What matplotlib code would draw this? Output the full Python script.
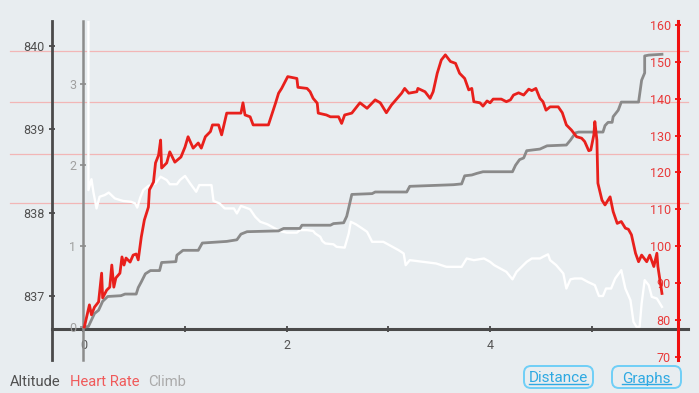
import matplotlib
matplotlib.use("Agg")
import matplotlib.pyplot as plt
from matplotlib.patches import FancyBboxPatch
from matplotlib.lines import Line2D
from matplotlib.transforms import IdentityTransform

plt.rcParams["font.family"] = ["Roboto", "DejaVu Sans"]

# distance axis ticks
dist_ticks = [0, 1, 2, 3, 4, 5]
dist_tick_labels = ["0", "", "2", "", "4", ""]

# altitude (white line, left dark axis)
alt_ticks = [837, 838, 839, 840]
alt_dist = [0.05, 0.05, 0.08, 0.10, 0.13, 0.16, 0.21, 0.25, 0.31, 0.39,
            0.47, 0.51, 0.53, 0.56, 0.59, 0.64, 0.71, 0.76, 0.82, 0.85,
            0.92, 0.95, 1.00, 1.05, 1.11, 1.14, 1.26, 1.28, 1.34, 1.39,
            1.48, 1.51, 1.55, 1.64, 1.69, 1.74, 1.81, 1.90, 1.93, 2.00,
            2.10, 2.13, 2.20, 2.26, 2.28, 2.33, 2.35, 2.38, 2.46, 2.49,
            2.57, 2.61, 2.63, 2.68, 2.73, 2.79, 2.84, 2.95, 3.01, 3.10,
            3.15, 3.17, 3.21, 3.34, 3.47, 3.57, 3.72, 3.77, 3.84, 3.94,
            4.00, 4.04, 4.10, 4.16, 4.22, 4.26, 4.36, 4.41, 4.49, 4.52,
            4.57, 4.59, 4.65, 4.72, 4.75, 4.79, 4.83, 4.90, 4.96, 5.03,
            5.07, 5.11, 5.14, 5.19, 5.23, 5.29, 5.33, 5.38, 5.41, 5.44,
            5.47, 5.49, 5.52, 5.56, 5.59, 5.64, 5.67, 5.69]
alt_m = [841.50, 838.27, 838.40, 838.24, 838.05, 838.19, 838.21, 838.24, 838.17, 838.14,
         838.13, 838.11, 838.06, 838.18, 838.27, 838.32, 838.35, 838.43, 838.39, 838.34,
         838.34, 838.39, 838.44, 838.35, 838.25, 838.33, 838.33, 838.14, 838.11, 838.05,
         838.05, 837.99, 838.08, 838.04, 837.95, 837.89, 837.86, 837.80, 837.78, 837.76,
         837.76, 837.79, 837.79, 837.78, 837.75, 837.71, 837.66, 837.63, 837.62, 837.59,
         837.58, 837.75, 837.89, 837.86, 837.82, 837.77, 837.65, 837.65, 837.61, 837.55,
         837.51, 837.37, 837.43, 837.41, 837.39, 837.35, 837.35, 837.45, 837.43, 837.45,
         837.41, 837.37, 837.33, 837.29, 837.20, 837.29, 837.41, 837.45, 837.45, 837.47,
         837.50, 837.43, 837.37, 837.27, 837.09, 837.20, 837.21, 837.21, 837.17, 837.13,
         837.00, 837.00, 837.09, 837.09, 837.21, 837.31, 837.09, 836.95, 836.69, 836.63,
         836.63, 836.91, 837.19, 837.13, 836.99, 836.97, 836.91, 836.87]
grid_alt = [839.94, 839.32, 838.70, 838.12]

# climb (grey step line)
climb_ticks = [0, 1, 2, 3]
climb_dist = [0.00, 0.05, 0.08, 0.11, 0.15, 0.19, 0.24, 0.37, 0.41, 0.52,
              0.54, 0.57, 0.61, 0.66, 0.75, 0.77, 0.91, 0.92, 0.98, 1.13,
              1.17, 1.41, 1.51, 1.55, 1.61, 1.92, 1.97, 2.13, 2.15, 2.43,
              2.46, 2.56, 2.59, 2.62, 2.64, 2.84, 2.87, 3.18, 3.21, 3.64,
              3.72, 3.75, 3.82, 3.87, 3.93, 4.22, 4.25, 4.29, 4.33, 4.36,
              4.49, 4.56, 4.75, 4.79, 4.84, 4.87, 5.11, 5.13, 5.16, 5.20,
              5.21, 5.26, 5.29, 5.46, 5.49, 5.52, 5.52, 5.56, 5.69]
climb_val = [0.00, 0.01, 0.09, 0.17, 0.21, 0.32, 0.38, 0.39, 0.41, 0.41,
             0.49, 0.56, 0.66, 0.70, 0.70, 0.80, 0.81, 0.89, 0.95, 0.95,
             1.04, 1.06, 1.08, 1.15, 1.18, 1.19, 1.22, 1.22, 1.26, 1.26,
             1.28, 1.29, 1.37, 1.53, 1.64, 1.65, 1.67, 1.67, 1.74, 1.76,
             1.77, 1.87, 1.88, 1.90, 1.92, 1.92, 2.00, 2.07, 2.09, 2.18,
             2.20, 2.24, 2.25, 2.31, 2.40, 2.41, 2.41, 2.49, 2.53, 2.53,
             2.60, 2.68, 2.78, 2.78, 3.05, 3.14, 3.35, 3.36, 3.37]

# heart rate (red line, right red axis)
hr_ticks = [70, 80, 90, 100, 110, 120, 130, 140, 150, 160]
hr_dist = [0.01, 0.03, 0.06, 0.08, 0.11, 0.15, 0.18, 0.19, 0.23, 0.26,
           0.28, 0.30, 0.32, 0.36, 0.38, 0.40, 0.42, 0.46, 0.49, 0.52,
           0.54, 0.57, 0.60, 0.64, 0.65, 0.69, 0.71, 0.74, 0.76, 0.77,
           0.82, 0.85, 0.90, 0.96, 1.00, 1.03, 1.08, 1.13, 1.16, 1.20,
           1.25, 1.27, 1.33, 1.36, 1.41, 1.55, 1.57, 1.59, 1.64, 1.67,
           1.82, 1.89, 1.92, 1.95, 2.01, 2.10, 2.11, 2.20, 2.23, 2.26,
           2.30, 2.31, 2.39, 2.43, 2.51, 2.54, 2.57, 2.64, 2.72, 2.79,
           2.87, 2.92, 2.98, 3.03, 3.08, 3.13, 3.16, 3.20, 3.28, 3.29,
           3.36, 3.41, 3.44, 3.48, 3.52, 3.56, 3.61, 3.66, 3.70, 3.75,
           3.79, 3.82, 3.84, 3.90, 3.93, 3.97, 4.00, 4.03, 4.11, 4.16,
           4.20, 4.23, 4.28, 4.33, 4.38, 4.41, 4.45, 4.49, 4.52, 4.55,
           4.59, 4.67, 4.71, 4.75, 4.80, 4.85, 4.90, 4.93, 4.97, 4.99,
           5.02, 5.03, 5.05, 5.06, 5.10, 5.13, 5.18, 5.21, 5.25, 5.29,
           5.33, 5.36, 5.39, 5.43, 5.46, 5.49, 5.54, 5.57, 5.61, 5.64,
           5.65, 5.69]
hr_bpm = [78.1, 80.5, 84.1, 81.4, 83.5, 84.9, 92.7, 86.0, 88.1, 88.9,
          94.9, 88.9, 91.4, 92.7, 97.1, 94.9, 96.8, 95.7, 97.6, 97.9,
          96.3, 102.5, 107.1, 110.6, 115.3, 117.4, 122.6, 124.7, 128.8, 121.2,
          122.6, 125.6, 122.8, 124.2, 126.9, 129.7, 126.6, 128.0, 126.6, 129.7,
          131.1, 132.9, 132.9, 130.2, 136.1, 136.1, 138.9, 135.6, 135.1, 132.9,
          132.9, 138.8, 141.5, 142.8, 146.0, 145.5, 143.1, 142.8, 141.9, 140.1,
          138.8, 136.1, 135.6, 135.1, 135.1, 133.3, 135.6, 136.1, 138.9, 137.4,
          139.7, 138.9, 136.2, 138.3, 139.9, 141.5, 142.8, 141.5, 141.9, 142.8,
          141.9, 140.1, 141.9, 146.9, 150.5, 151.9, 150.1, 149.6, 146.9, 145.5,
          142.4, 142.8, 139.2, 138.9, 138.0, 139.4, 138.9, 139.9, 139.9, 139.2,
          139.7, 141.0, 141.6, 141.0, 142.6, 142.2, 142.8, 140.1, 139.2, 136.9,
          137.8, 137.8, 136.2, 132.9, 131.5, 129.7, 129.3, 128.4, 125.9, 126.1,
          130.2, 133.8, 128.8, 117.1, 112.5, 111.2, 113.4, 109.4, 106.2, 106.7,
          104.9, 104.6, 103.1, 98.1, 95.8, 97.6, 95.8, 97.6, 94.5, 98.1,
          94.5, 87.2]

legend_items = [("Altitude", "#505050"), ("Heart Rate", "#f05a5a"), ("Climb", "#aaaaaa")]
buttons = ["Distance", "Graphs"]

BG = "#e8edf0"
DARK = "#4a4a4a"
GREY = "#8a8a8a"
RED = "#e8201c"
W, H = 699, 393

fig = plt.figure(figsize=(W / 100, H / 100), dpi=100, facecolor=BG)
ax = fig.add_axes([52 / W, 33 / H, 636 / W, 339 / H])
ax.set_facecolor(BG)
ax.set_xlim(-0.308, 5.946)
ax.set_ylim(836.233, 840.297)

for g in grid_alt:
    ax.axhline(g, xmin=-0.066, xmax=1.0, color="#f2b6b6", lw=0.9, clip_on=False, zorder=0.5)
ax.plot(alt_dist, alt_m, color="white", lw=1.7, zorder=2)

ax.spines[["top", "right"]].set_visible(False)
ax.spines["left"].set_color(DARK)
ax.spines["left"].set_linewidth(2)
ax.spines["bottom"].set_position(("axes", 31 / 339))
ax.spines["bottom"].set_color(DARK)
ax.spines["bottom"].set_linewidth(2.2)
ax.set_xticks(dist_ticks)
ax.set_xticklabels(dist_tick_labels)
ax.set_yticks(alt_ticks)
ax.set_yticklabels([str(v) for v in alt_ticks])
ax.tick_params(axis="x", direction="inout", length=4.5, width=1.3, color=DARK,
               labelcolor="#555555", labelsize=9, pad=5)
ax.tick_params(axis="y", direction="inout", length=4.2, width=1.3, color=DARK,
               labelcolor="#505050", labelsize=9, pad=3)

# climb axis
ax_c = ax.twinx()
ax_c.set_ylim(-0.404, 3.781)
ax_c.plot(climb_dist, climb_val, color=GREY, lw=2.0, zorder=3)
for s in ["top", "right", "bottom"]:
    ax_c.spines[s].set_visible(False)
ax_c.spines["left"].set_visible(True)
ax_c.spines["left"].set_position(("data", 0.0))
ax_c.spines["left"].set_color("#8c8c8c")
ax_c.spines["left"].set_linewidth(1.8)
ax_c.yaxis.tick_left()
ax_c.set_yticks(climb_ticks)
ax_c.tick_params(axis="y", direction="inout", length=4, width=1.2, color="#8c8c8c",
                 labelcolor="#a0a0a0", labelsize=9, pad=3)

# heart rate axis
ax_h = ax.twinx()
ax_h.set_ylim(69.15, 161.08)
ax_h.plot(hr_dist, hr_bpm, color=RED, lw=2.0, zorder=4)
for s in ["top", "right", "bottom"]:
    ax_h.spines[s].set_visible(False)
ax_h.spines["left"].set_visible(True)
ax_h.spines["left"].set_position(("axes", 626 / 636))
ax_h.spines["left"].set_color("#f01010")
ax_h.spines["left"].set_linewidth(2.2)
ax_h.yaxis.tick_left()
ax_h.set_yticks(hr_ticks)
ax_h.tick_params(axis="y", direction="inout", length=4.2, width=1.3, color="#f01010",
                 labelcolor="#e83a3a", labelsize=9, pad=3)

# legend row
px = IdentityTransform()
x = 10
for label, col in legend_items:
    t = fig.text(x, H - 385.5, label, color=col, fontsize=10.6, transform=px,
                 ha="left", va="baseline")
    fig.canvas.draw()
    x = t.get_window_extent().x1 + 9

# buttons
for label, left in zip(buttons, [524, 612]):
    box = FancyBboxPatch((left, H - 388), 69, 22, boxstyle="round,pad=0,rounding_size=7",
                         transform=px, fc="none", ec="#6fcff7", lw=1.4)
    fig.add_artist(box)
    t = fig.text(left + 34.5, H - 382.5, label, color="#2ea9e2", fontsize=11,
                 transform=px, ha="center", va="baseline")
    fig.canvas.draw()
    bb = t.get_window_extent()
    fig.add_artist(Line2D([bb.x0, bb.x1], [H - 384, H - 384], transform=px,
                          color="#2ea9e2", lw=1.0))

fig.savefig("out.png", dpi=100, facecolor=BG)
